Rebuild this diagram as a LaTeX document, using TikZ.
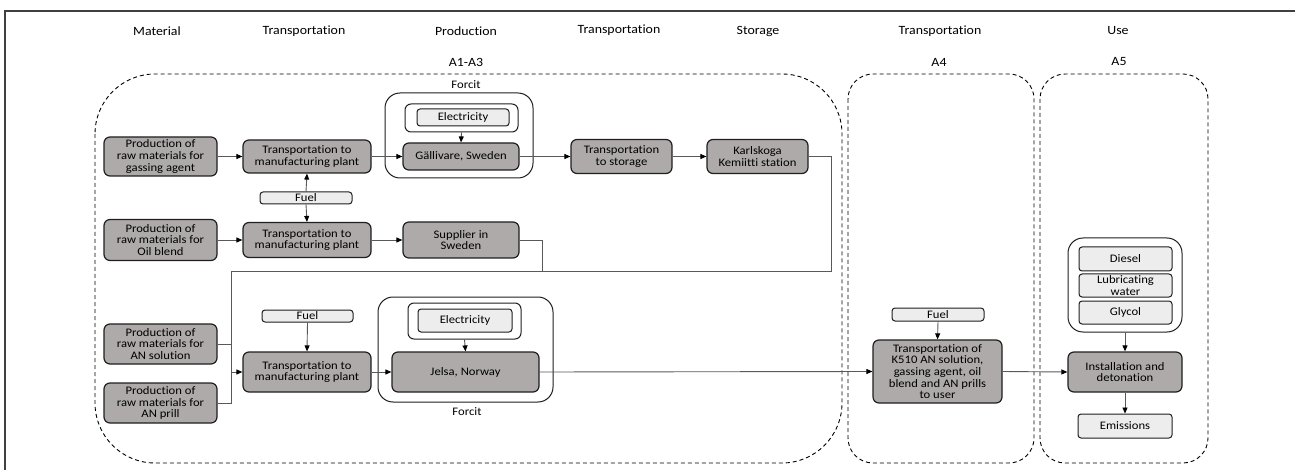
\documentclass[tikz,border=0pt]{standalone}
\usepackage{fontspec}
\setmainfont[FakeStretch=1.1, Ligatures=NoCommon]{Carlito}
\usepackage{tikz}
\usepackage{xcolor}
\usetikzlibrary{arrows.meta}
\definecolor{fcgray}{RGB}{174, 170, 170}
\definecolor{fclight}{RGB}{237, 237, 237}
\definecolor{fcborder}{RGB}{31, 31, 31}
\definecolor{fcline}{RGB}{89, 89, 89}
\definecolor{fcframe}{RGB}{64, 64, 64}
\newcommand\boxfont{\fontsize{11.5}{11.7}\selectfont}
\newcommand\phasefont{\fontsize{12.6}{13}\selectfont}
\tikzset{
    procnode/.style={draw=fcborder, fill=fcgray, line width=1.2pt, rounded corners=6pt, align=center, inner sep=1pt, font=\boxfont},
    inputnode/.style={draw=fcborder, fill=fclight, line width=1pt, rounded corners=3pt, align=center, inner sep=1pt, font=\boxfont},
    groupnode/.style={draw=fcborder, fill=white, line width=1pt, rounded corners=15pt, inner sep=0pt},
    stagebox/.style={draw=black, line width=0.9pt, dash pattern=on 4pt off 3pt},
    phaselabel/.style={font=\phasefont, inner sep=1pt},
    flow/.style={draw=fcline, line width=0.9pt, -{Triangle[length=6pt, width=5pt, color=black]}},
    link/.style={draw=fcline, line width=0.9pt}
}

\begin{document}
\begin{tikzpicture}[x=1pt, y=-1pt]
    \useasboundingbox (0,0) rectangle (1295,470);
    \draw[fcframe, line width=1.5pt] (5,480) -- (5,11) -- (1300,11);

    \node[phaselabel] (hmat)   at (157,31)  {Material};
    \node[phaselabel] (htr1)   at (304,31)  {Transportation};
    \node[phaselabel] (hprod)  at (466,31)  {Production};
    \node[phaselabel] (htr2)   at (619,30)  {Transportation};
    \node[phaselabel] (hstor)  at (758,31)  {Storage};
    \node[phaselabel] (htr3)   at (940,31)  {Transportation};
    \node[phaselabel] (huse)   at (1118,31) {Use};
    \node[phaselabel] (la13)   at (466,62)  {A1-A3};
    \node[phaselabel] (la4)    at (939,62)  {A4};
    \node[phaselabel] (la5)    at (1119,62) {A5};

    \draw[stagebox, rounded corners=60pt] (95,74) rectangle (842,463);
    \draw[stagebox, rounded corners=25pt] (848,74) rectangle (1034,463);
    \draw[stagebox, rounded corners=25pt] (1040,74) rectangle (1208,463);

    \node[groupnode, minimum width=148pt, minimum height=85pt] (forcitA) at (459,135.5) {};
    \node[phaselabel, font=\boxfont] (forcitAlab) at (466,85) {Forcit};
    \node[groupnode, rounded corners=6pt, minimum width=113pt, minimum height=28pt] (elecboxA) at (461.5,118) {};
    \node[inputnode, minimum width=92pt, minimum height=17pt] (elecA) at (463,117.5) {Electricity};
    \node[procnode, minimum width=116pt, minimum height=27pt] (gal) at (461,156.5) {Gällivare, Sweden};

    \node[procnode, minimum width=113pt, minimum height=39pt] (gasmat) at (160.5,156.5) {Production of\\raw materials for\\gassing agent};
    \node[procnode, minimum width=128pt, minimum height=33pt] (trans1) at (307,156.5) {Transportation to\\manufacturing plant};
    \node[procnode, minimum width=101pt, minimum height=34pt] (tstore) at (621.5,156.5) {Transportation\\to storage};
    \node[procnode, minimum width=101pt, minimum height=34pt] (karl) at (757.5,156.5) {Karlskoga\\Kemiitti station};
    \node[inputnode, minimum width=92pt, minimum height=12pt] (fuel1) at (306,198) {Fuel};

    \node[procnode, minimum width=113pt, minimum height=41pt] (oilmat) at (160.5,240) {Production of\\raw materials for\\Oil blend};
    \node[procnode, minimum width=128pt, minimum height=35pt] (trans2) at (307,240) {Transportation to\\manufacturing plant};
    \node[procnode, minimum width=116pt, minimum height=36pt] (supp) at (461,240) {Supplier in\\Sweden};

    \node[procnode, minimum width=113pt, minimum height=40pt] (ansol) at (160.5,344) {Production of\\raw materials for\\AN solution};
    \node[procnode, minimum width=113pt, minimum height=40pt] (anprill) at (160.5,403) {Production of\\raw materials for\\AN prill};
    \node[inputnode, minimum width=91pt, minimum height=12pt] (fuel3) at (307.5,316) {Fuel};
    \node[procnode, minimum width=128pt, minimum height=40pt] (trans3) at (307,372) {Transportation to\\manufacturing plant};

    \node[groupnode, minimum width=175pt, minimum height=105pt] (forcitB) at (465.5,349.5) {};
    \node[phaselabel, font=\boxfont] (forcitBlab) at (467,412) {Forcit};
    \node[groupnode, rounded corners=6pt, minimum width=113pt, minimum height=36pt] (elecboxB) at (464.5,321) {};
    \node[inputnode, minimum width=94pt, minimum height=23pt] (elecB) at (465,320.5) {Electricity};
    \node[procnode, minimum width=147pt, minimum height=40pt] (jelsa) at (465.5,372) {Jelsa, Norway};

    \node[inputnode, minimum width=92pt, minimum height=13pt] (fuel4) at (938,314.5) {Fuel};
    \node[procnode, minimum width=129pt, minimum height=63pt] (k510) at (937.5,371.5) {Transportation of\\K510 AN solution,\\gassing agent, oil\\blend and AN prills\\to user};

    \node[groupnode, minimum width=114pt, minimum height=94pt] (usebox) at (1125,285) {};
    \node[inputnode, minimum width=93pt, minimum height=24pt] (diesel) at (1125.5,259) {Diesel};
    \node[inputnode, minimum width=93pt, minimum height=23pt] (lubwater) at (1125.5,285.5) {Lubricating\\water};
    \node[inputnode, minimum width=93pt, minimum height=23pt] (glycol) at (1125.5,312.5) {Glycol};
    \node[procnode, minimum width=114pt, minimum height=40pt] (inst) at (1125,372) {Installation and\\detonation};
    \node[inputnode, minimum width=94pt, minimum height=24pt] (emis) at (1125,426) {Emissions};

    \coordinate (retR) at (831,271);
    \coordinate (retL) at (231,271);
    \coordinate (suppR) at (542,271);
    \coordinate (join) at (231,372);

    \draw[flow] (gasmat.east) -- (trans1.west);
    \draw[flow] (trans1.east) -- (gal.west);
    \draw[flow] (elecboxA.south) -- (gal.north);
    \draw[flow] (gal.east) -- (tstore.west);
    \draw[flow] (tstore.east) -- (karl.west);
    \draw[flow] (fuel1.north) -- (trans1.south);
    \draw[flow] (fuel1.south) -- (trans2.north);
    \draw[flow] (oilmat.east) -- (trans2.west);
    \draw[flow] (trans2.east) -- (supp.west);
    \draw[link] (karl.east) -| (retR) -- (retL) -- (join);
    \draw[link] (supp.east) -| (suppR);
    \draw[link] (ansol.east) -| (join);
    \draw[link] (anprill.east) -| (join);
    \draw[flow] (join) -- (trans3.west);
    \draw[flow] (fuel3.south) -- (trans3.north);
    \draw[flow] (trans3.east) -- (jelsa.west);
    \draw[flow] (elecboxB.south) -- (jelsa.north);
    \draw[flow] (jelsa.east) -- (k510.west);
    \draw[flow] (fuel4.south) -- (k510.north);
    \draw[flow] (k510.east) -- (inst.west);
    \draw[flow] (usebox.south) -- (inst.north);
    \draw[flow] (inst.south) -- (emis.north);
\end{tikzpicture}
\end{document}
